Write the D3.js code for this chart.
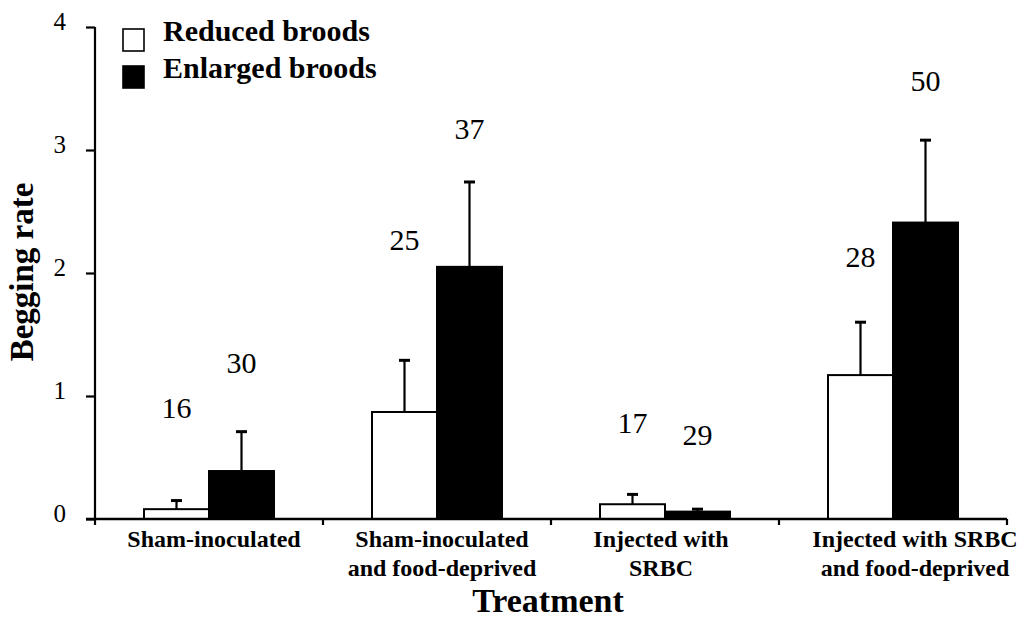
<!DOCTYPE html>
<html><head><meta charset="utf-8">
<script src="https://cdn.jsdelivr.net/npm/d3@7"></script>
<style>html,body{margin:0;padding:0;background:#fff;}svg{display:block;}
svg text{font-family:"Liberation Serif","Times New Roman",serif;}</style>
</head><body>
<svg id="chart" width="1021" height="628"></svg>
<script>
// ---- data ----
const categories = [
  ["Sham-inoculated"],
  ["Sham-inoculated", "and food-deprived"],
  ["Injected with", "SRBC"],
  ["Injected with SRBC", "and food-deprived"]
];
const seriesNames = ["Reduced broods", "Enlarged broods"];
const reducedMean = [0.08, 0.87, 0.12, 1.17];
const reducedSE   = [0.07, 0.42, 0.08, 0.43];
const enlargedMean = [0.39, 2.05, 0.06, 2.41];
const enlargedSE   = [0.32, 0.69, 0.02, 0.67];
const reducedN  = [16, 25, 17, 28];
const enlargedN = [30, 37, 29, 50];
const yTicks = [0, 1, 2, 3, 4];

// ---- layout (not data) ----
const plotL = 95, plotR = 1007, plotT = 27, plotB = 519;
const barW = 65;
const nLabelLevelReduced  = [0.82, 2.19, 0.70, 2.05];   // label baseline heights in axis units
const nLabelLevelEnlarged = [1.19, 3.09, 0.60, 3.48];
const catLabelShift = [5, 5, -4, 22];

const svg = d3.select("#chart");
const x = d3.scaleBand().domain(d3.range(categories.length)).range([plotL, plotR]).padding(0);
const sub = d3.scaleBand().domain([0, 1]).range([-barW, barW]).padding(0);
const y = d3.scaleLinear().domain([0, 4]).range([plotB, plotT]);

const series = [
  {mean: reducedMean, se: reducedSE, n: reducedN, lvl: nLabelLevelReduced, fill: "#fff"},
  {mean: enlargedMean, se: enlargedSE, n: enlargedN, lvl: nLabelLevelEnlarged, fill: "#000"}
];

const rows = [];
series.forEach((s, si) => s.mean.forEach((v, ci) => rows.push({si, ci, v, se: s.se[ci], n: s.n[ci], lvl: s.lvl[ci], fill: s.fill})));

const bx = d => x(d.ci) + x.bandwidth() / 2 + sub(d.si);

// error bars (upward only)
const eb = svg.append("g").attr("stroke", "#000").attr("stroke-width", 2.2);
eb.selectAll("line.v").data(rows).join("line").attr("class", "v")
  .attr("x1", d => bx(d) + barW / 2).attr("x2", d => bx(d) + barW / 2)
  .attr("y1", d => y(d.v)).attr("y2", d => y(d.v + d.se));
eb.selectAll("line.c").data(rows).join("line").attr("class", "c")
  .attr("x1", d => bx(d) + barW / 2 - 5.5).attr("x2", d => bx(d) + barW / 2 + 5.5)
  .attr("y1", d => y(d.v + d.se)).attr("y2", d => y(d.v + d.se)).attr("stroke-width", 3);

// bars
svg.append("g").selectAll("rect").data(rows).join("rect")
  .attr("x", d => bx(d)).attr("width", barW)
  .attr("y", d => y(d.v)).attr("height", d => y(0) - y(d.v))
  .attr("fill", d => d.fill).attr("stroke", "#000").attr("stroke-width", 2);

// n labels
svg.append("g").selectAll("text").data(rows).join("text")
  .attr("x", d => bx(d) + barW / 2).attr("y", d => y(d.lvl))
  .attr("text-anchor", "middle").style("font-size", "30px")
  .text(d => d.n);

// y axis
const yAxis = svg.append("g").attr("transform", `translate(${plotL},0)`)
  .call(d3.axisLeft(y).tickValues(yTicks).tickSize(9).tickPadding(20).tickFormat(d3.format("d")));
yAxis.attr("font-family", null).attr("font-size", null);
yAxis.select(".domain").attr("d", `M0,${plotT}V${plotB + 6}`).attr("stroke-width", 2.2);
yAxis.selectAll(".tick line").attr("stroke-width", 2.2);
yAxis.selectAll(".tick text").style("font-size", "25px").attr("fill", "#000").attr("dy", "0.1em");

// x axis
const xb = svg.append("g").attr("transform", `translate(0,${plotB})`);
xb.append("line").attr("x1", plotL - 9).attr("x2", plotR).attr("y1", 0).attr("y2", 0)
  .attr("stroke", "#000").attr("stroke-width", 2.4);
xb.selectAll("line.t").data(d3.range(1, categories.length + 1)).join("line").attr("class", "t")
  .attr("x1", i => plotL + i * x.bandwidth()).attr("x2", i => plotL + i * x.bandwidth())
  .attr("y1", 0).attr("y2", 6).attr("stroke", "#000").attr("stroke-width", 2.2);
const catG = xb.selectAll("text").data(categories).join("text")
  .attr("text-anchor", "middle").style("font-weight", "bold").style("font-size", "24px")
  .attr("transform", (d, i) => `translate(${x(i) + x.bandwidth() / 2 + catLabelShift[i]},0)`);
catG.selectAll("tspan").data(d => d).join("tspan")
  .attr("x", 0).attr("y", (d, j) => 28 + j * 29).text(d => d);

// axis titles
svg.append("text").attr("x", 548).attr("y", 612).attr("text-anchor", "middle")
  .style("font-weight", "bold").style("font-size", "34px").text("Treatment");
svg.append("text").attr("transform", "translate(33,272) rotate(-90)").attr("text-anchor", "middle")
  .style("font-weight", "bold").style("font-size", "33px").text("Begging rate");

// legend
const lg = svg.append("g").attr("transform", "translate(123,29)");
const li = lg.selectAll("g").data(seriesNames).join("g").attr("transform", (d, i) => `translate(0,${i * 37})`);
li.append("rect").attr("width", 21).attr("height", 22)
  .attr("fill", (d, i) => series[i].fill).attr("stroke", "#000").attr("stroke-width", 1.6);
li.append("text").attr("x", 40).attr("y", 12).style("font-weight", "bold")
  .style("font-size", "30px").text(d => d);
</script>
</body></html>
